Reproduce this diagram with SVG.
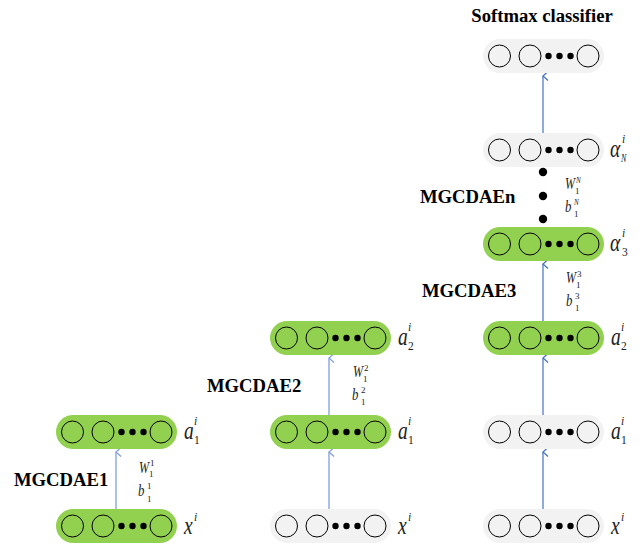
<svg xmlns="http://www.w3.org/2000/svg" xmlns:xlink="http://www.w3.org/1999/xlink" width="643" height="547" viewBox="0 0 643 547">
<style>
.g{fill:#92D050}
.w{fill:#F2F2F2}
.c{fill:none;stroke:#000;stroke-width:1}
.d{fill:#000}
.t{font-family:"Liberation Serif","Times New Roman",serif;font-weight:bold;font-size:18.67px;fill:#000}
.lab{font-family:"Liberation Serif","Times New Roman",serif;font-style:italic;font-size:26px;fill:#222}
.ss{font-family:"Liberation Serif","Times New Roman",serif;font-size:11.5px;fill:#222}
.it{font-style:italic}
.wl{font-family:"Liberation Serif","Times New Roman",serif;font-style:italic;font-size:16px;fill:#222}
.ws{font-family:"Liberation Serif","Times New Roman",serif;font-size:9px;fill:#222}
.a1{stroke:#7f9fdc;stroke-width:1.3;fill:none}
.a2{stroke:#4472C4;stroke-width:1.2;fill:none}
</style>
<defs>
<g id="units">
<circle class="c" cx="16.5" cy="17" r="11"/>
<circle class="c" cx="47" cy="17" r="11"/>
<circle class="c" cx="105" cy="17" r="11"/>
<circle class="d" cx="65.5" cy="17" r="3.2"/>
<circle class="d" cx="76.5" cy="17" r="3.2"/>
<circle class="d" cx="87.5" cy="17" r="3.2"/>
</g>
<marker id="ah1" markerWidth="12" markerHeight="12" refX="6" refY="1" orient="auto-start-reverse" markerUnits="userSpaceOnUse" viewBox="0 0 12 12">
<path d="M1.5,6 L6,1 L10.5,6" stroke="#7f9fdc" stroke-width="1.2" fill="none"/>
</marker>
<marker id="ah2" markerWidth="12" markerHeight="12" refX="6" refY="1" orient="auto-start-reverse" markerUnits="userSpaceOnUse" viewBox="0 0 12 12">
<path d="M1.5,6 L6,1 L10.5,6" stroke="#4472C4" stroke-width="1.2" fill="none"/>
</marker>
</defs>

<rect width="643" height="547" fill="#fff"/>

<g id="connectors">
<line class="a1" x1="116" y1="509" x2="116" y2="452" marker-end="url(#ah1)"/>
<line class="a1" x1="329" y1="509" x2="329" y2="452" marker-end="url(#ah1)"/>
<line class="a1" x1="329" y1="415" x2="329" y2="358" marker-end="url(#ah1)"/>
<line class="a2" x1="543" y1="509" x2="543" y2="452" marker-end="url(#ah2)"/>
<line class="a2" x1="543" y1="415" x2="543" y2="358" marker-end="url(#ah2)"/>
<line class="a2" x1="543" y1="321" x2="543" y2="264" marker-end="url(#ah2)"/>
<line class="a2" x1="543" y1="133" x2="543" y2="76" marker-end="url(#ah2)"/>
<circle class="d" cx="543" cy="172" r="4.2"/>
<circle class="d" cx="543" cy="196" r="4.2"/>
<circle class="d" cx="543" cy="219" r="4.2"/>
</g>

<!-- Column 1 -->
<g id="c1-x">
<rect class="g" x="56" y="509" width="121" height="34" rx="17"/>
<use xlink:href="#units" x="56" y="509"/>
<text class="lab" transform="translate(184,534) scale(0.75,1)">x</text>
<text class="ss it" x="194" y="521">i</text>
</g>
<g id="c1-a1">
<rect class="g" x="56" y="415" width="121" height="34" rx="17"/>
<use xlink:href="#units" x="56" y="415"/>
<text class="lab" transform="translate(184,439) scale(0.75,1)">a</text>
<text class="ss it" x="194" y="425">i</text>
<text class="ss" x="194" y="444">1</text>
</g>
<g id="c1-w">
<text class="wl" transform="translate(139,473) scale(0.75,1)">W</text>
<text class="ws" x="150" y="466">1</text>
<text class="ws" x="149" y="477">1</text>
<text class="wl" transform="translate(138,496) scale(0.8,1)">b</text>
<text class="ws" x="147" y="489">1</text>
<text class="ws" x="147" y="502">1</text>
</g>
<text class="t" x="14" y="486">MGCDAE1</text>

<!-- Column 2 -->
<g id="c2-x">
<rect class="w" x="270" y="509" width="121" height="34" rx="17"/>
<use xlink:href="#units" x="270" y="509"/>
<text class="lab" transform="translate(398,534) scale(0.75,1)">x</text>
<text class="ss it" x="408" y="521">i</text>
</g>
<g id="c2-a1">
<rect class="g" x="270" y="415" width="121" height="34" rx="17"/>
<use xlink:href="#units" x="270" y="415"/>
<text class="lab" transform="translate(398,439) scale(0.75,1)">a</text>
<text class="ss it" x="408" y="425">i</text>
<text class="ss" x="408" y="444">1</text>
</g>
<g id="c2-a2">
<rect class="g" x="270" y="321" width="121" height="34" rx="17"/>
<use xlink:href="#units" x="270" y="321"/>
<text class="lab" transform="translate(398,345) scale(0.75,1)">a</text>
<text class="ss it" x="408" y="331">i</text>
<text class="ss" x="408" y="350">2</text>
</g>
<g id="c2-w">
<text class="wl" transform="translate(353,377) scale(0.75,1)">W</text>
<text class="ws" x="364" y="371">2</text>
<text class="ws" x="363" y="382">1</text>
<text class="wl" transform="translate(352,400) scale(0.8,1)">b</text>
<text class="ws" x="361" y="393">2</text>
<text class="ws" x="361" y="405">1</text>
</g>
<text class="t" x="207" y="392">MGCDAE2</text>

<!-- Column 3 -->
<g id="c3-x">
<rect class="w" x="483" y="509" width="121" height="34" rx="17"/>
<use xlink:href="#units" x="483" y="509"/>
<text class="lab" transform="translate(611,534) scale(0.75,1)">x</text>
<text class="ss it" x="621" y="521">i</text>
</g>
<g id="c3-a1">
<rect class="w" x="483" y="415" width="121" height="34" rx="17"/>
<use xlink:href="#units" x="483" y="415"/>
<text class="lab" transform="translate(611,439) scale(0.75,1)">a</text>
<text class="ss it" x="621" y="425">i</text>
<text class="ss" x="621" y="444">1</text>
</g>
<g id="c3-a2">
<rect class="g" x="483" y="321" width="121" height="34" rx="17"/>
<use xlink:href="#units" x="483" y="321"/>
<text class="lab" transform="translate(611,345) scale(0.75,1)">a</text>
<text class="ss it" x="621" y="331">i</text>
<text class="ss" x="621" y="350">2</text>
</g>
<g id="c3-a3">
<rect class="g" x="483" y="227" width="121" height="34" rx="17"/>
<use xlink:href="#units" x="483" y="227"/>
<text class="lab" transform="translate(610,251) scale(0.75,1)">α</text>
<text class="ss it" x="622" y="237">i</text>
<text class="ss" x="622" y="256">3</text>
</g>
<g id="c3-aN">
<rect class="w" x="483" y="133" width="121" height="34" rx="17"/>
<use xlink:href="#units" x="483" y="133"/>
<text class="lab" transform="translate(610,157) scale(0.75,1)">α</text>
<text class="ss it" x="622" y="143">i</text>
<text class="ss it" transform="translate(621,162) scale(0.7,1)">N</text>
</g>
<g id="c3-softmax">
<rect class="w" x="483" y="39" width="121" height="34" rx="17"/>
<use xlink:href="#units" x="483" y="39"/>
</g>
<g id="c3-w3">
<text class="wl" transform="translate(566,283) scale(0.75,1)">W</text>
<text class="ws" x="577" y="277">3</text>
<text class="ws" x="576" y="288">1</text>
<text class="wl" transform="translate(566,306) scale(0.8,1)">b</text>
<text class="ws" x="575" y="299">3</text>
<text class="ws" x="575" y="311">1</text>
</g>
<g id="c3-wN">
<text class="wl" transform="translate(565,189) scale(0.75,1)">W</text>
<text class="ws it" transform="translate(576,183) scale(0.8,1)">N</text>
<text class="ws" x="575" y="194">1</text>
<text class="wl" transform="translate(565,212) scale(0.8,1)">b</text>
<text class="ws it" transform="translate(574,205) scale(0.8,1)">N</text>
<text class="ws" x="574" y="217">1</text>
</g>
<text class="t" x="422" y="297">MGCDAE3</text>
<text class="t" x="420" y="203">MGCDAEn</text>
<text class="t" x="542" y="22" text-anchor="middle">Softmax classifier</text>
</svg>
